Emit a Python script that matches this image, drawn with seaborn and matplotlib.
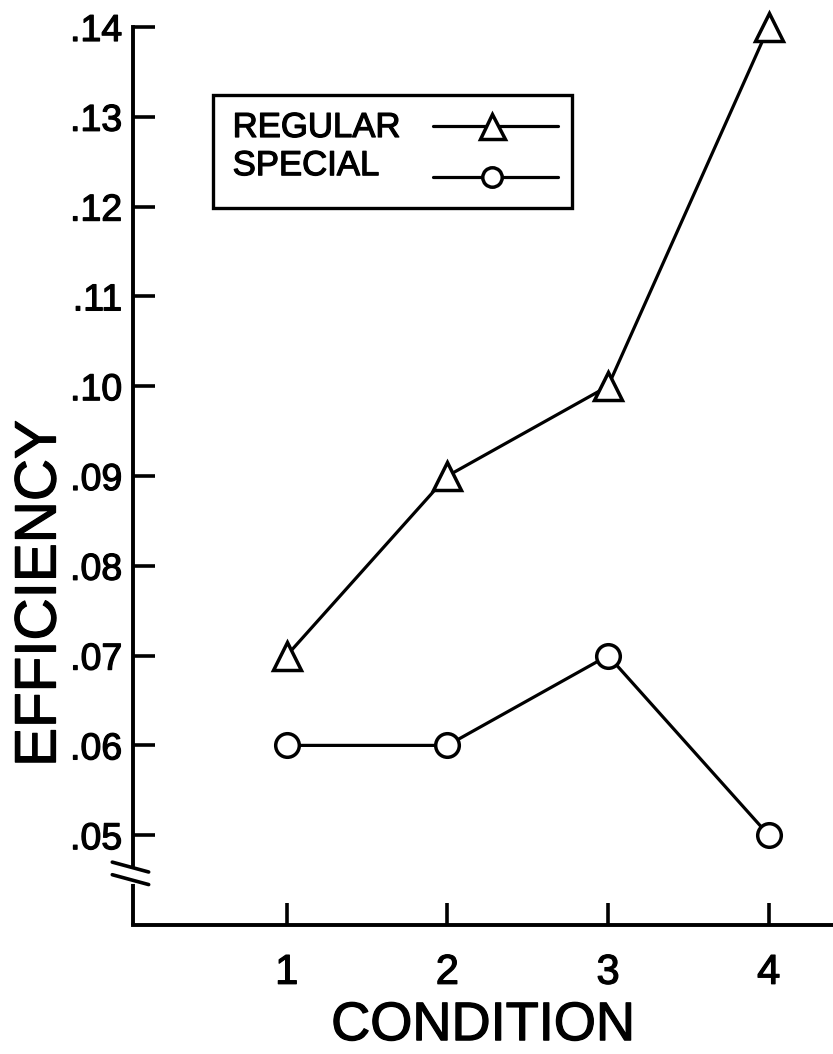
import pandas as pd
import matplotlib.pyplot as plt
import matplotlib.patheffects as pe
import seaborn as sns
from matplotlib.patches import Rectangle

conditions = [1, 2, 3, 4]
regular = [0.07, 0.09, 0.10, 0.14]
special = [0.06, 0.06, 0.07, 0.05]
yticks = [0.05, 0.06, 0.07, 0.08, 0.09, 0.10, 0.11, 0.12, 0.13, 0.14]
ytick_labels = ['.05', '.06', '.07', '.08', '.09', '.10', '.11', '.12', '.13', '.14']
groups = ['REGULAR', 'SPECIAL']

df = pd.DataFrame({
    'Condition': conditions * 2,
    'Efficiency': regular + special,
    'Group': [groups[0]] * 4 + [groups[1]] * 4,
})

sns.set_style('ticks')
plt.rcParams['font.family'] = ['Liberation Sans', 'DejaVu Sans']
for k in ['text.color', 'axes.labelcolor', 'xtick.color', 'ytick.color', 'axes.edgecolor']:
    plt.rcParams[k] = 'black'

fig = plt.figure(figsize=(8.33, 10.54), dpi=100)
ax = fig.add_axes([0.16, 0.1224, 0.84, 0.852])

sns.lineplot(data=df, x='Condition', y='Efficiency', hue='Group', style='Group',
             markers={'REGULAR': '^', 'SPECIAL': 'o'}, dashes=False,
             palette={'REGULAR': 'black', 'SPECIAL': 'black'},
             linewidth=2.3, markersize=19, markeredgewidth=2.5,
             markerfacecolor='white', markeredgecolor='black', ax=ax, legend=False)
for line, ms in zip(ax.lines, [20, 17]):
    line.set_markersize(ms)
    line.set_markerfacecolor('white')
    line.set_clip_on(False)

ax.set_xlim(0.045, 4.4)
ax.set_ylim(0.04, 0.14)
ax.set_xticks(conditions)
ax.set_xticklabels([str(c) for c in conditions])
ax.set_yticks(yticks)
ax.set_yticklabels(ytick_labels)
ax.tick_params(axis='y', direction='in', length=16, width=2.6, labelsize=27, pad=8)
ax.tick_params(axis='x', direction='in', length=16, width=2.6, labelsize=30, pad=20)

ax.set_xlabel('CONDITION', fontsize=39, labelpad=6)
ax.set_ylabel('EFFICIENCY', fontsize=42)
ax.yaxis.set_label_coords(-0.094, 0.369)

for side in ['top', 'right']:
    ax.spines[side].set_visible(False)
for side in ['left', 'bottom']:
    ax.spines[side].set_linewidth(2.8)

# y axis break
ax.spines['left'].set_bounds(0.0467, 0.14)
tr = ax.get_yaxis_transform()
ax.plot([0, 0], [0.04, 0.0446], color='black', lw=2.8, transform=tr, clip_on=False,
        solid_capstyle='butt')
ax.plot([-0.03, 0.022], [0.0470, 0.0459], color='black', lw=2.6, transform=tr, clip_on=False)
ax.plot([-0.03, 0.022], [0.0456, 0.0445], color='black', lw=2.6, transform=tr, clip_on=False)

# legend box, drawn by hand so the labels sit left with the keys on the right
ta = ax.transAxes
ax.add_patch(Rectangle((0.1143, 0.7985), 0.513, 0.1258, transform=ta, fill=False,
                       edgecolor='black', lw=2.4, clip_on=False))
leg_texts = [
    ax.text(0.142, 0.8775, groups[0], transform=ta, fontsize=25, ha='left', va='baseline'),
    ax.text(0.142, 0.835, groups[1], transform=ta, fontsize=25, ha='left', va='baseline'),
]
ax.plot([0.4286, 0.607], [0.8893, 0.8893], color='black', lw=2.3, transform=ta, clip_on=False)
ax.plot([0.513], [0.8893], marker='^', markersize=18, markerfacecolor='white',
        markeredgecolor='black', markeredgewidth=2.5, transform=ta, clip_on=False)
ax.plot([0.4286, 0.607], [0.8335, 0.8335], color='black', lw=2.3, transform=ta, clip_on=False)
ax.plot([0.513], [0.8335], marker='o', markersize=14, markerfacecolor='white',
        markeredgecolor='black', markeredgewidth=2.5, transform=ta, clip_on=False)

# the scanned lettering is a little heavier than the regular face
thicken = [pe.withStroke(linewidth=0.9, foreground='black')]
for t in (ax.get_xticklabels() + ax.get_yticklabels() + leg_texts
          + [ax.xaxis.label, ax.yaxis.label]):
    t.set_path_effects(thicken)

fig.savefig('out.png', dpi=100)
